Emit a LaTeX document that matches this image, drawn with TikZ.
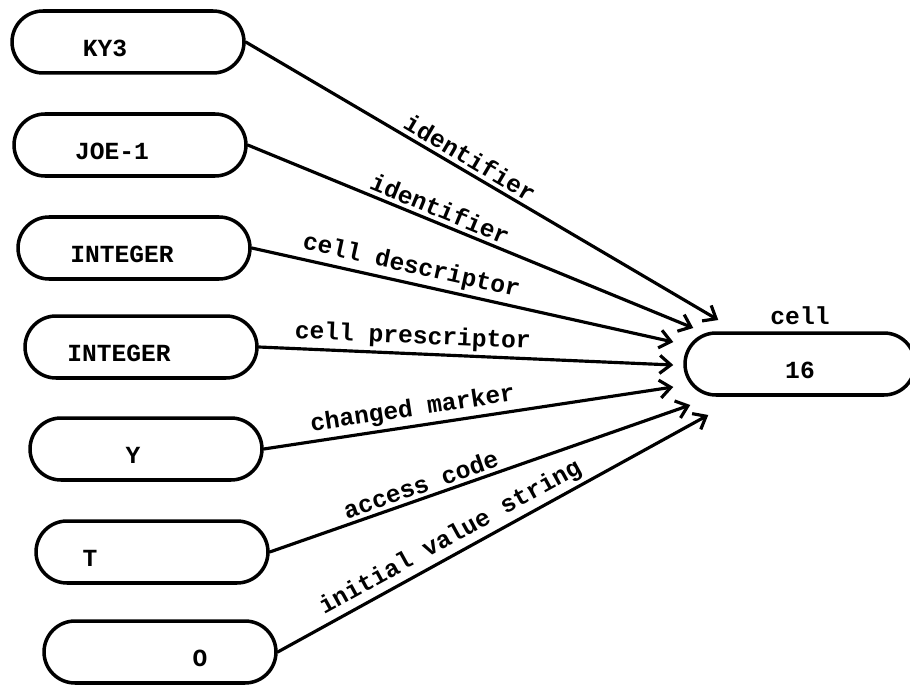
\documentclass[tikz,border=0pt]{standalone}
\usepackage{fontspec}
\setmonofont{Liberation Mono}
\usetikzlibrary{positioning}
\usetikzlibrary{arrows,arrows.meta,shapes}
\usetikzlibrary{calc}
\tikzstyle{field}=[rounded rectangle,draw,line width=2pt,minimum width=4.64cm,minimum height=1.24cm,inner sep=0pt]
\tikzstyle{fieldtext}=[font=\ttfamily\bfseries\fontsize{14}{16}\selectfont,inner sep=0pt]
\tikzstyle{link} = [draw,line width=1.8pt,-{Straight Barb[length=2.2mm,width=3.6mm]},line cap=round]
\tikzstyle{linklabel} = [font=\ttfamily\bfseries\fontsize{14}{16}\selectfont,sloped,above,inner sep=2pt]

\begin{document}
\begin{tikzpicture}[x=0.02cm,y=-0.02cm]
    \useasboundingbox (0,0) rectangle (910,686);

    % the seven fields on the left, text set off-centre as typed
    \foreach \pos/\name/\txt/\dx in {{(128,42)/ky/KY3/-0.46}, {(130,145)/joe/JOE-1/-0.36}, {(134,248)/intA/INTEGER/-0.24}, {(141,347)/intB/INTEGER/-0.44}, {(146,449)/chg/Y/-0.26}, {(152,552)/acc/T/-1.24}, {(160,652)/init/O/0.8}}
        \node[field,label={[fieldtext,xshift=\dx cm,yshift=-0.12cm]center:\txt}] (\name) at \pos {};

    % the cell itself
    \node[field,minimum width=4.6cm,label={[fieldtext,yshift=-0.12cm]center:16},label={[fieldtext,yshift=0.12cm]above:cell}] (cell) at (800,364) {};

    \foreach \source/\tip/\txt/\where in {ky/{(35,-44)}/identifier/0.46, joe/{(10,-36)}/identifier/0.42, intA/{(-10,-22)}/cell descriptor/0.37, intB/{(-10,1)}/cell prescriptor/0.37, chg/{(-10,23)}/changed marker/0.37, acc/{(7,41)}/access code/0.37, init/{(25,51)}/initial value string/0.42}
            \path[link] (\source.east) -- node[linklabel,pos=\where]{\txt} ([shift={\tip}]cell.west);

\end{tikzpicture}
\end{document}
